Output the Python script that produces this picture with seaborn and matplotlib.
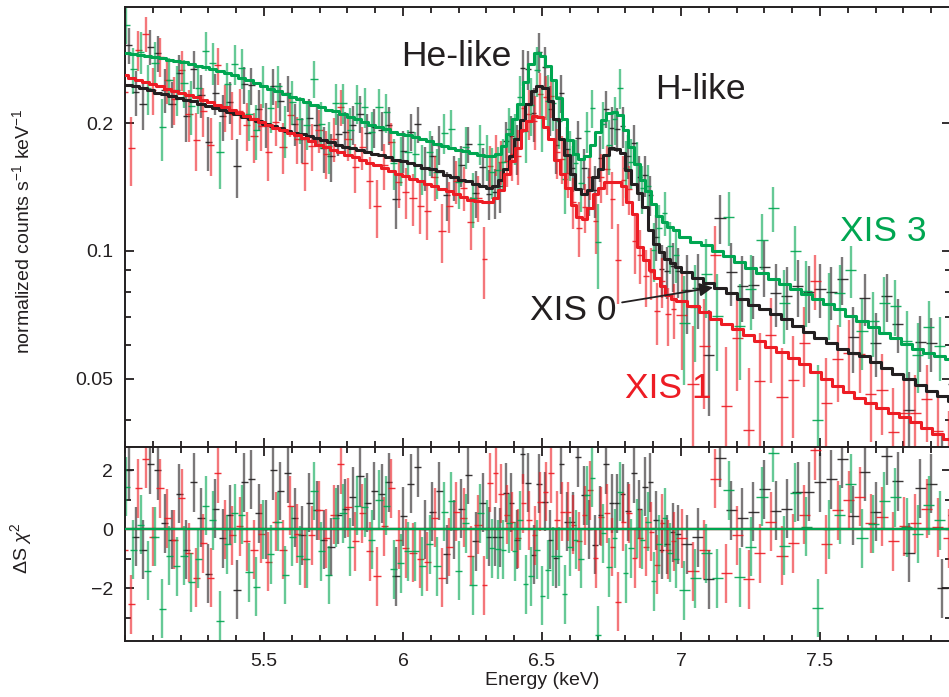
import numpy as np
import matplotlib
matplotlib.use("Agg")
import matplotlib.pyplot as plt
from matplotlib.ticker import MultipleLocator, FixedLocator, FixedFormatter, NullFormatter
import seaborn as sns

# ---------------- data ----------------
# spectral binning: region boundaries (keV) and bin width in each region
region_bounds = [5.0, 6.3, 7.0, 8.0]
region_widths = [0.026, 0.02, 0.04]

# best-fit model (normalized counts s^-1 keV^-1) per bin
model_xis0 = [0.246, 0.244, 0.242, 0.239, 0.236, 0.234, 0.232, 0.229, 0.227, 0.225,
              0.222, 0.220, 0.217, 0.215, 0.212, 0.210, 0.207, 0.204, 0.202, 0.199,
              0.197, 0.195, 0.192, 0.190, 0.188, 0.186, 0.184, 0.182, 0.180, 0.178,
              0.176, 0.175, 0.173, 0.171, 0.169, 0.168, 0.166, 0.164, 0.163, 0.161,
              0.159, 0.157, 0.156, 0.154, 0.151, 0.149, 0.147, 0.146, 0.144, 0.142,
              0.141, 0.142, 0.147, 0.156, 0.167, 0.183, 0.203, 0.222, 0.238, 0.245,
              0.242, 0.226, 0.204, 0.183, 0.168, 0.152, 0.140, 0.136, 0.139, 0.149,
              0.156, 0.168, 0.175, 0.174, 0.170, 0.155, 0.144, 0.137, 0.127, 0.112,
              0.104, 0.0995, 0.0958, 0.0935, 0.0915,
              0.0893, 0.0862, 0.0838, 0.0818, 0.0794, 0.0769, 0.0747, 0.0728, 0.0711, 0.0692,
              0.0665, 0.0643, 0.0623, 0.0605, 0.0588, 0.0576, 0.0564, 0.0546, 0.0530, 0.0514,
              0.0498, 0.0483, 0.0468, 0.0455, 0.0443]
model_xis1 = [0.259, 0.256, 0.253, 0.250, 0.247, 0.244, 0.241, 0.238, 0.236, 0.233,
              0.230, 0.227, 0.224, 0.221, 0.218, 0.215, 0.211, 0.208, 0.204, 0.201,
              0.198, 0.195, 0.193, 0.190, 0.187, 0.184, 0.181, 0.178, 0.176, 0.173,
              0.171, 0.168, 0.166, 0.164, 0.161, 0.159, 0.157, 0.154, 0.152, 0.150,
              0.148, 0.146, 0.144, 0.142, 0.140, 0.138, 0.136, 0.134, 0.132, 0.131,
              0.130, 0.130, 0.133, 0.139, 0.152, 0.163, 0.175, 0.193, 0.202, 0.208,
              0.207, 0.196, 0.183, 0.164, 0.152, 0.141, 0.128, 0.120, 0.119, 0.126,
              0.136, 0.141, 0.145, 0.145, 0.145, 0.142, 0.130, 0.122, 0.102, 0.095,
              0.090, 0.0865, 0.0825, 0.0785, 0.0772,
              0.0760, 0.0740, 0.0718, 0.0691, 0.0672, 0.0655, 0.0635, 0.0613, 0.0595, 0.0577,
              0.0560, 0.0542, 0.0518, 0.0499, 0.0480, 0.0465, 0.0451, 0.0438, 0.0426, 0.0415,
              0.0405, 0.0395, 0.0383, 0.0371, 0.0360]
model_xis3 = [0.292, 0.291, 0.289, 0.288, 0.286, 0.284, 0.282, 0.280, 0.278, 0.276,
              0.273, 0.271, 0.268, 0.265, 0.262, 0.259, 0.255, 0.252, 0.248, 0.245,
              0.241, 0.238, 0.234, 0.231, 0.228, 0.224, 0.221, 0.218, 0.215, 0.213,
              0.210, 0.207, 0.204, 0.201, 0.198, 0.196, 0.194, 0.191, 0.189, 0.187,
              0.185, 0.183, 0.181, 0.179, 0.177, 0.175, 0.173, 0.172, 0.170, 0.168,
              0.167, 0.167, 0.169, 0.177, 0.189, 0.204, 0.222, 0.250, 0.276, 0.292,
              0.288, 0.272, 0.252, 0.229, 0.204, 0.182, 0.169, 0.165, 0.167, 0.178,
              0.191, 0.203, 0.211, 0.212, 0.209, 0.193, 0.176, 0.160, 0.147, 0.138,
              0.129, 0.121, 0.117, 0.114, 0.112,
              0.108, 0.105, 0.103, 0.100, 0.097, 0.094, 0.091, 0.0886, 0.0860, 0.0837,
              0.0815, 0.0792, 0.0771, 0.0751, 0.0729, 0.0704, 0.0683, 0.0661, 0.0641, 0.0622,
              0.0604, 0.0586, 0.0575, 0.0565, 0.0555]

# residuals (data - model) / sigma
resid_xis0 = [2.0, -0.25, -0.7, 2.2, 2.0, 0.2, -0.35, 1.2, -0.7, 1.6,
              0.4, -1.5, 0.7, -0.3, 0.5, -2.05, 1.6, 1.7, 0.55, 0.0,
              2.0, 1.3, 1.9, 0.4, -0.2, 0.9, 0.65, -0.35, -0.6, 0.5,
              0.7, 1.1, 1.8, 0.9, 1.3, 1.2, 1.6, -1.6, 0.45, 1.55,
              2.1, 0.0, 0.6, 1.3, -0.85, 0.0, 0.7, 1.85, -0.4, 0.9,
              -0.25, -0.25, -0.27, 1.24, 0.9, -0.36, 2.55, 1.58, -0.87, 1.55,
              0.93, -0.36, -0.98, 2.2, 0.26, 0.26, 2.45, 1.16, 0.0, -0.53,
              0.48, 2.2, 0.88, 0.88, 1.2, 0.62, 1.9, 0.68, 1.44, 1.6,
              0.3, -0.7, -0.5, -0.1, -0.17,
              -0.5, -0.27, -1.7, 2.43, 0.65, 0.4, 0.6, 1.36, 0.63, 0.7,
              1.27, 1.27, 1.6, 1.7, 2.4, 0.46, 1.95, 0.6, 2.5, 1.63,
              -0.8, 1.4, 1.55, -2.0, 0.5]
resid_xis1 = [-0.7, -2.55, 1.4, 2.4, -0.25, 1.4, 0.37, -0.36, 1.05, -0.8,
              -1.65, -0.47, -1.65, 1.9, 0.0, -0.2, 0.1, -0.4, -0.7, -0.15,
              -1.1, 0.25, -0.7, 0.8, -0.15, -1.0, -0.2, 0.65, -0.3, 0.5,
              2.2, 0.75, -0.4, 0.55, -0.75, -1.6, 0.1, 1.4, -0.35, -0.65,
              -0.8, -1.0, -1.1, 0.4, -1.65, -0.6, 0.6, 0.4, -0.9, 0.15,
              -1.9, 1.58, 1.9, 1.2, 0.5, 0.26, -0.3, 0.88, 0.3, -0.2,
              0.93, 1.27, 1.9, 0.3, 0.6, 0.6, 0.15, -0.4, 0.48, 1.33,
              -0.98, 0.43, 0.54, -0.6, -2.45, 0.26, 0.54, -0.98, -0.3, -0.59,
              -0.08, -1.2, 0.2, -0.7, -0.4,
              -0.3, -1.43, -0.7, 1.72, -1.49, -0.2, -1.69, -0.81, 0.26, -0.9,
              -0.47, 0.5, 2.68, -0.5, 0.65, 0.99, 1.1, 0.2, 0.43, -0.4,
              0.1, 0.2, 0.7, 0.07, -0.3]
resid_xis3 = [1.45, -0.7, 0.15, -1.4, -0.25, -2.7, -0.9, -1.25, -0.9, -1.8,
              -1.0, 0.8, 0.3, -3.1, -0.5, 0.55, 0.5, -1.45, -1.95, 0.0,
              -0.85, 0.25, -1.55, -0.25, -0.9, -1.0, 1.3, -0.75, -1.55, 0.4,
              0.55, -0.6, 0.8, 0.75, -0.35, 1.0, 0.8, -1.35, -1.15, -0.75,
              -0.75, -1.25, -0.5, -1.25, 0.6, 0.95, -1.4, 0.2, -1.9, 0.55,
              0.0, -0.64, -0.67, -0.7, 0.2, -0.75, 0.3, -1.86, -1.6, -0.7,
              -2.25, -1.37, -0.92, -0.92, -2.2, -0.59, -0.36, -1.0, 1.16, 1.75,
              -3.6, -0.14, -1.28, -0.3, 1.27, -1.49, -0.64, 0.03, -0.36, 0.26,
              -1.77, -0.5, 0.4, -0.8, -1.0,
              -2.07, -1.66, -0.81, -1.66, 1.33, -1.62, -0.59, 1.1, 2.59, -0.56,
              1.24, 0.09, -2.67, 0.0, 0.5, 1.55, -0.3, 0.18, 0.96, 1.08,
              0.07, -0.16, 0.82, 0.3, 0.0]

# 1-sigma error as a fraction of the model, per energy region
err_frac_xis0 = [0.12, 0.13, 0.19]
err_frac_xis1 = [0.125, 0.14, 0.24]
err_frac_xis3 = [0.115, 0.125, 0.18]

labels = ["XIS 0", "XIS 1", "XIS 3"]

# ---------------- style ----------------
sns.set_theme(style="ticks")
plt.rcParams["font.family"] = ["Liberation Sans", "DejaVu Sans"]
plt.rcParams["mathtext.fontset"] = "custom"
plt.rcParams["mathtext.rm"] = "Liberation Sans"
plt.rcParams["mathtext.it"] = "Liberation Sans:italic"
plt.rcParams["mathtext.bf"] = "Liberation Sans:bold"

C_BLACK = "#231f20"
C_RED = "#ed1c24"
C_GREEN = "#00a651"
colors = {"XIS 0": C_BLACK, "XIS 1": C_RED, "XIS 3": C_GREEN}
shifts = {"XIS 0": 0.0, "XIS 1": -0.017, "XIS 3": -0.009}


def make_edges(shift):
    parts = [np.array([region_bounds[0]])]
    for lo, hi, w in zip(region_bounds[:-1], region_bounds[1:], region_widths):
        n = int(round((hi - lo) / w))
        parts.append(lo + w * np.arange(1, n + 1))
    return np.concatenate(parts) + shift


counts_per_region = [int(round((hi - lo) / w)) for lo, hi, w in
                     zip(region_bounds[:-1], region_bounds[1:], region_widths)]

series = {}
for name, mod, res, frac in [("XIS 0", model_xis0, resid_xis0, err_frac_xis0),
                             ("XIS 1", model_xis1, resid_xis1, err_frac_xis1),
                             ("XIS 3", model_xis3, resid_xis3, err_frac_xis3)]:
    edges = make_edges(shifts[name])
    mod = np.array(mod)
    res = np.array(res)
    f = np.repeat(frac, counts_per_region)
    err = f * mod
    data = mod + res * err
    centers = 0.5 * (edges[:-1] + edges[1:])
    half = 0.5 * (edges[1:] - edges[:-1])
    series[name] = dict(edges=edges, model=mod, resid=res, err=err, data=data,
                        centers=centers, half=half)

# ---------------- figure ----------------
W, H = 949, 697
fig = plt.figure(figsize=(W / 100, H / 100), dpi=100)
fig.patch.set_facecolor("white")

left = 125 / W
width = (951 - 125) / W
ax1 = fig.add_axes([left, 1 - 446.5 / H, width, (446.5 - 6.7) / H])
ax2 = fig.add_axes([left, 1 - 641 / H, width, (641 - 446.5) / H])

ax1.set_yscale("log")
ax1.set_xlim(5.0, 7.971)
ax1.set_ylim(0.0346, 0.376)
ax2.set_xlim(5.0, 7.971)
ax2.set_ylim(-3.79, 2.81)

# data points with error bars
for name in ["XIS 0", "XIS 1", "XIS 3"]:
    s = series[name]
    c = colors[name]
    ax1.errorbar(s["centers"], s["data"], yerr=s["err"], fmt="none",
                 ecolor=c, elinewidth=1.7, alpha=0.6, capsize=0, zorder=2)
    ax1.errorbar(s["centers"], s["data"], xerr=s["half"], fmt="none",
                 ecolor=c, elinewidth=1.0, alpha=0.9, capsize=0, zorder=2)
    ax2.errorbar(s["centers"], s["resid"], yerr=np.ones_like(s["resid"]), fmt="none",
                 ecolor=c, elinewidth=1.7, alpha=0.6, capsize=0, zorder=2)
    ax2.errorbar(s["centers"], s["resid"], xerr=s["half"], fmt="none",
                 ecolor=c, elinewidth=1.0, alpha=0.9, capsize=0, zorder=2)

# model step lines
for name in ["XIS 0", "XIS 1", "XIS 3"]:
    s = series[name]
    sns.lineplot(x=s["edges"], y=np.append(s["model"], s["model"][-1]),
                 drawstyle="steps-post", color=colors[name], linewidth=2.2,
                 estimator=None, sort=False, ax=ax1, zorder=4)
    sns.lineplot(x=s["edges"], y=np.zeros(len(s["edges"])),
                 color=colors[name], linewidth=1.6, estimator=None, sort=False,
                 ax=ax2, zorder=4)

# ---------------- axes styling ----------------
for ax in (ax1, ax2):
    for sp in ax.spines.values():
        sp.set_linewidth(1.4)
        sp.set_color(C_BLACK)
        sp.set_visible(True)
    ax.xaxis.set_major_locator(FixedLocator([5.5, 6.0, 6.5, 7.0, 7.5]))
    ax.xaxis.set_minor_locator(MultipleLocator(0.1))
    ax.tick_params(which="both", direction="in", top=True, right=True,
                   colors=C_BLACK, labelsize=14, pad=8.5)
    ax.tick_params(which="major", length=6.5, width=1.3)
    ax.tick_params(which="minor", length=4.0, width=1.3)
    ax.set_facecolor("white")

ax1.tick_params(labelbottom=False)
ax1.yaxis.set_major_locator(FixedLocator([0.05, 0.1, 0.2]))
ax1.yaxis.set_major_formatter(FixedFormatter(["0.05", "0.1", "0.2"]))
ax1.yaxis.set_minor_locator(FixedLocator([0.04, 0.06, 0.07, 0.08, 0.09]))
ax1.yaxis.set_minor_formatter(NullFormatter())

ax2.yaxis.set_major_locator(FixedLocator([-2, 0, 2]))
ax2.yaxis.set_major_formatter(FixedFormatter(["\u22122", "0", "2"]))
ax2.yaxis.set_minor_locator(FixedLocator([-3, -1, 1]))
ax2.xaxis.set_major_formatter(FixedFormatter(["5.5", "6", "6.5", "7", "7.5"]))

ax1.set_ylabel("normalized counts s$^{-1}$ keV$^{-1}$", fontsize=14, color=C_BLACK)
ax1.yaxis.set_label_coords(-0.111, 0.49)
ax2.set_ylabel(r"$\Delta$S $\chi^2$", fontsize=14, color=C_BLACK)
ax2.yaxis.set_label_coords(-0.110, 0.478)
ax2.set_xlabel("Energy (keV)", fontsize=14, color=C_BLACK)
ax2.xaxis.set_label_coords(0.505, -0.159)

# ---------------- annotations ----------------
tk = dict(fontsize=25.5, va="baseline", ha="left")
ax1.text(5.992, 0.273, "He-like", color=C_BLACK, **tk)
ax1.text(6.906, 0.228, "H-like", color=C_BLACK, **tk)
ax1.text(7.572, 0.1053, "XIS 3", color=C_GREEN, **tk)
ax1.text(6.457, 0.0689, "XIS 0", color=C_BLACK, **tk)
ax1.text(6.799, 0.0451, "XIS 1", color=C_RED, **tk)
ax1.annotate("", xy=(7.115, 0.0820), xytext=(6.788, 0.0756),
             arrowprops=dict(arrowstyle="-|>", color=C_BLACK, lw=1.3,
                             mutation_scale=20, shrinkA=0, shrinkB=0),
             zorder=6)

fig.savefig("out.png", dpi=100, facecolor="white")
